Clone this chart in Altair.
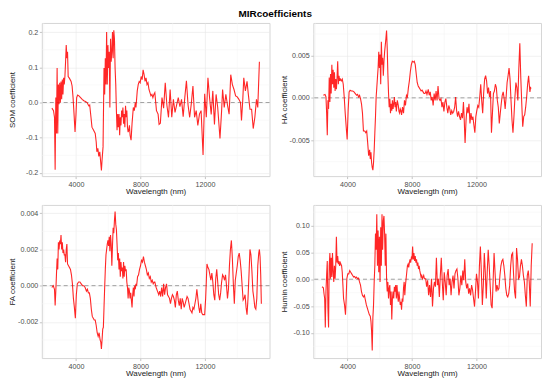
import altair as alt
import pandas as pd

# ---- data (wavelength nm, coefficient) ----
som = [(2505,-0.016),(2606,-0.023),(2667,-0.042),(2707,-0.191),(2748,0.014),(2788,-0.088),(2829,0.098),(2869,-0.088),(2909,0.051),(2950,-0.005),(2990,0.056),(3031,0.0),(3071,0.06),(3111,0.009),(3152,0.065),(3192,0.023),(3233,0.07),(3273,0.051),(3313,0.074),(3354,0.116),(3394,0.163),(3435,0.126),(3475,0.144),(3515,0.074),(3576,0.07),(3637,0.065),(3697,0.06),(3758,0.047),(3818,0.014),(3879,-0.033),(3940,-0.084),(4000,-0.033),(4041,0.014),(4101,0.021),(4182,0.019),(4283,0.014),(4384,0.009),(4485,0.005),(4586,0.003),(4687,0.0),(4788,-0.009),(4849,-0.007),(4929,-0.042),(4990,-0.07),(5091,-0.079),(5192,-0.088),(5253,-0.112),(5293,-0.14),(5354,-0.13),(5414,-0.153),(5475,-0.14),(5535,-0.172),(5576,-0.193),(5616,-0.163),(5677,-0.126),(5737,0.098),(5778,0.023),(5818,0.126),(5859,0.051),(5899,0.2),(5939,0.051),(5980,0.163),(6020,0.098),(6061,0.144),(6101,-0.014),(6141,0.181),(6182,0.116),(6222,0.144),(6263,0.2),(6303,0.126),(6343,0.205),(6384,0.181),(6424,0.098),(6465,0.051),(6505,-0.023),(6545,-0.079),(6586,-0.033),(6626,-0.07),(6667,-0.033),(6707,-0.093),(6747,-0.042),(6788,-0.065),(6828,-0.023),(6869,-0.042),(6909,-0.014),(6949,-0.06),(6990,-0.033),(7030,-0.07),(7071,-0.009),(7111,-0.042),(7151,-0.023),(7192,-0.07),(7232,-0.084),(7273,-0.079),(7313,-0.065),(7353,-0.093),(7414,-0.107),(7475,-0.06),(7515,-0.037),(7555,-0.014),(7616,-0.023),(7677,0.0),(7717,-0.014),(7798,0.033),(7858,0.051),(7919,0.06),(7980,0.056),(8040,0.074),(8101,0.065),(8161,0.093),(8222,0.079),(8283,0.06),(8343,0.07),(8404,0.051),(8464,0.056),(8525,0.037),(8586,0.028),(8646,0.019),(8707,0.023),(8767,0.014),(8828,0.023),(8888,0.028),(8989,-0.023),(9090,-0.033),(9151,-0.062),(9231,-0.059),(9332,0.014),(9433,-0.016),(9534,0.056),(9635,-0.007),(9736,-0.042),(9837,0.037),(9938,-0.042),(10039,0.009),(10140,-0.028),(10241,-0.007),(10342,0.014),(10443,-0.012),(10544,0.009),(10645,-0.04),(10746,0.014),(10847,0.062),(10948,-0.007),(11049,-0.042),(11150,-0.003),(11251,0.047),(11352,-0.042),(11453,-0.023),(11554,-0.065),(11655,-0.033),(11756,-0.023),(11878,-0.149),(11979,0.025),(12080,-0.042),(12181,0.07),(12282,0.014),(12383,-0.034),(12484,0.033),(12585,-0.062),(12686,0.023),(12787,-0.014),(12928,-0.102),(13029,-0.023),(13090,0.037),(13191,-0.014),(13292,0.023),(13393,-0.007),(13494,-0.033),(13595,0.079),(13696,0.051),(13797,0.037),(13898,0.019),(13999,0.016),(14100,0.009),(14201,0.0),(14261,-0.051),(14342,0.009),(14403,0.07),(14504,0.033),(14605,0.06),(14686,0.023),(14787,-0.019),(14888,-0.019),(14989,-0.074),(15090,-0.042),(15191,0.009),(15271,-0.014),(15372,0.116)]

ha = [(2506,0.0003),(2607,0.0004),(2667,0.0001),(2708,-0.0018),(2748,-0.0044),(2788,-0.0003),(2829,-0.0013),(2869,0.0024),(2910,-0.0005),(2950,0.0028),(2990,0.0005),(3031,0.0039),(3071,0.0016),(3112,0.0033),(3152,0.0012),(3192,0.003),(3233,0.0008),(3273,0.0022),(3314,0.001),(3354,0.0024),(3394,0.0043),(3435,0.0016),(3475,0.0026),(3516,0.002),(3556,0.0022),(3617,0.002),(3677,0.0022),(3738,0.0016),(3798,0.0001),(3859,-0.0018),(3920,-0.0034),(3980,-0.0049),(4041,-0.0015),(4101,0.0007),(4162,0.0009),(4243,0.0008),(4324,0.0008),(4404,0.0007),(4485,0.0005),(4566,0.0003),(4627,0.0004),(4687,0.0001),(4748,0.0003),(4808,-0.0001),(4869,-0.0007),(4930,-0.0018),(4990,-0.0039),(5071,-0.0039),(5132,-0.0041),(5192,-0.0039),(5253,-0.0053),(5313,-0.0068),(5374,-0.0061),(5414,-0.0072),(5455,-0.0064),(5495,-0.0076),(5536,-0.0082),(5576,-0.0085),(5616,-0.0076),(5657,-0.0061),(5697,-0.0041),(5738,-0.0022),(5778,0.0001),(5818,0.0012),(5859,0.0024),(5899,0.0035),(5940,0.0054),(5980,0.0035),(6020,0.0051),(6061,0.0016),(6101,0.0066),(6142,0.0039),(6182,0.0047),(6222,0.0026),(6263,0.0043),(6303,0.0054),(6344,0.0062),(6384,0.007),(6424,0.0079),(6465,0.0058),(6505,0.0028),(6546,0.0005),(6586,-0.0011),(6626,-0.0001),(6667,-0.0018),(6707,-0.0007),(6748,-0.0015),(6788,-0.0003),(6828,-0.0013),(6869,-0.0007),(6909,0.0001),(6950,-0.0011),(6990,-0.0005),(7030,-0.0016),(7091,-0.0003),(7152,-0.0009),(7192,-0.0016),(7232,-0.0018),(7273,-0.0013),(7313,-0.0015),(7354,-0.002),(7414,-0.0011),(7475,-0.0018),(7535,-0.0003),(7596,-0.0009),(7657,0.0003),(7717,0.0001),(7778,0.0012),(7838,0.002),(7899,0.0031),(7960,0.0039),(8020,0.0043),(8081,0.0042),(8141,0.0043),(8202,0.0039),(8263,0.0028),(8323,0.0018),(8384,0.0014),(8444,0.0012),(8505,0.001),(8566,0.0008),(8626,0.0009),(8687,0.0007),(8747,0.0005),(8808,0.0005),(8868,0.0008),(8929,0.0004),(9009,0.001),(9070,0.0003),(9131,0.0007),(9191,-0.0003),(9252,0.0001),(9312,-0.0009),(9373,0.0005),(9434,-0.0003),(9494,0.0008),(9555,-0.0003),(9615,0.0014),(9676,-0.0001),(9737,-0.0003),(9797,-0.0001),(9858,-0.0011),(9918,-0.0005),(9979,-0.0016),(10040,-0.0005),(10100,-0.0001),(10161,-0.0011),(10221,-0.0018),(10282,-0.0009),(10343,-0.0013),(10403,-0.002),(10464,-0.0015),(10524,-0.0018),(10585,-0.0016),(10646,-0.0011),(10706,0.0001),(10767,-0.0015),(10827,-0.0022),(10888,-0.0016),(10949,-0.0022),(11009,-0.0026),(11070,-0.0018),(11130,-0.0024),(11191,-0.0005),(11231,-0.0022),(11292,-0.0053),(11353,-0.0026),(11413,-0.0011),(11474,-0.0018),(11534,-0.0007),(11595,-0.003),(11656,-0.0018),(11716,-0.0026),(11777,-0.0022),(11837,-0.0032),(11898,-0.0041),(11959,-0.0022),(12019,-0.0015),(12080,-0.0009),(12140,-0.0011),(12201,0.0001),(12262,0.0016),(12322,-0.0003),(12383,-0.0018),(12443,0.0005),(12504,0.0022),(12565,0.0026),(12625,0.002),(12686,0.0005),(12746,0.0012),(12807,0.0001),(12868,0.0008),(12928,-0.0041),(12989,-0.0018),(13049,0.0005),(13110,0.0008),(13171,0.0016),(13231,0.0012),(13292,-0.0003),(13352,-0.0011),(13413,-0.003),(13474,-0.0018),(13534,-0.0007),(13595,0.0003),(13655,0.0007),(13716,-0.0001),(13777,-0.0013),(13837,0.0001),(13898,0.0018),(13958,0.0026),(14019,0.0035),(14080,0.0022),(14140,-0.0003),(14201,-0.0026),(14261,-0.0041),(14322,-0.0022),(14383,0.0001),(14443,0.0018),(14504,0.0012),(14564,-0.0003),(14625,0.0035),(14686,0.0064),(14746,0.0024),(14807,-0.0007),(14867,-0.0034),(14928,-0.0022),(14989,-0.002),(15049,-0.0011),(15110,0.0001),(15170,0.0016),(15231,0.0026),(15271,0.0016),(15312,0.0007),(15352,0.0012),(15392,0.0011)]

fa = [(2505,-0.0001),(2586,0.0),(2667,-0.0002),(2707,-0.0011),(2748,-0.0003),(2788,0.0006),(2829,0.0015),(2869,0.0009),(2909,0.0024),(2950,0.002),(2990,0.0025),(3031,0.0023),(3071,0.0028),(3111,0.002),(3152,0.0024),(3192,0.0018),(3233,0.002),(3273,0.0017),(3313,0.0017),(3354,0.0013),(3394,0.002),(3435,0.0023),(3475,0.0012),(3536,0.0011),(3596,0.001),(3657,0.0009),(3717,0.0006),(3778,0.0001),(3839,-0.0007),(3899,-0.0012),(3960,-0.0018),(4020,-0.0005),(4081,0.0001),(4162,0.0002),(4243,0.0002),(4323,0.0001),(4404,0.0),(4485,0.0),(4566,-0.0001),(4647,-0.0003),(4707,-0.0002),(4768,-0.0004),(4828,-0.0004),(4889,-0.0007),(4950,-0.0013),(5010,-0.0017),(5071,-0.0018),(5131,-0.0019),(5192,-0.0019),(5253,-0.0022),(5313,-0.0026),(5374,-0.0028),(5434,-0.0026),(5495,-0.003),(5535,-0.0031),(5576,-0.0035),(5616,-0.003),(5657,-0.0024),(5697,-0.0023),(5737,-0.0012),(5778,-0.0001),(5818,0.0009),(5859,0.0017),(5899,0.002),(5939,0.0023),(5980,0.0025),(6020,0.0022),(6061,0.0027),(6101,0.0019),(6141,0.0028),(6182,0.0023),(6222,0.0011),(6263,0.0022),(6303,0.0032),(6343,0.0029),(6384,0.0036),(6424,0.0041),(6465,0.0034),(6505,0.0031),(6545,0.0023),(6586,0.0014),(6626,0.0018),(6667,0.0009),(6707,0.0015),(6747,0.0005),(6788,0.0013),(6828,0.0008),(6869,0.001),(6909,0.0004),(6949,0.0013),(6990,0.0005),(7030,0.0011),(7071,0.0008),(7111,0.0009),(7151,0.0002),(7192,-0.0001),(7232,-0.0007),(7273,-0.0001),(7313,-0.0003),(7353,-0.0007),(7394,-0.0004),(7434,-0.0008),(7475,-0.0012),(7515,-0.0005),(7555,-0.0001),(7596,-0.0006),(7636,0.0),(7677,-0.0002),(7717,0.0001),(7757,0.0),(7818,0.0005),(7879,0.0006),(7939,0.0009),(8000,0.0011),(8060,0.0014),(8121,0.0013),(8182,0.0016),(8242,0.0013),(8303,0.0011),(8363,0.0009),(8424,0.0006),(8485,0.0007),(8545,0.0004),(8606,0.0005),(8666,0.0002),(8727,0.0003),(8788,0.0001),(8848,0.0002),(8888,0.0002),(8969,-0.0001),(9050,-0.0003),(9130,-0.0005),(9191,-0.0003),(9252,-0.0006),(9312,-0.0001),(9373,-0.0006),(9433,0.0001),(9494,-0.0005),(9555,-0.0001),(9615,0.0001),(9676,-0.0005),(9736,-0.0006),(9797,-0.0007),(9858,-0.001),(9918,-0.0007),(9979,-0.0005),(10039,-0.0006),(10100,-0.0008),(10161,-0.0012),(10221,-0.0005),(10282,-0.0003),(10342,-0.0008),(10403,-0.0011),(10464,-0.0007),(10524,-0.0013),(10585,-0.0007),(10645,-0.0009),(10706,-0.0012),(10767,-0.001),(10827,-0.0008),(10888,-0.0006),(10948,-0.0007),(11009,-0.001),(11070,-0.0013),(11130,-0.0014),(11191,-0.0015),(11251,-0.0012),(11312,-0.0013),(11373,-0.001),(11433,-0.0007),(11494,-0.0002),(11554,-0.0007),(11615,-0.0012),(11676,-0.0015),(11736,-0.001),(11797,-0.0015),(11857,-0.0016),(11918,-0.0016),(11979,-0.0016),(12039,-0.0007),(12080,0.0002),(12120,0.0012),(12181,0.001),(12241,0.0009),(12302,0.0006),(12362,0.0003),(12423,0.0007),(12484,0.0002),(12544,-0.0005),(12605,-0.0008),(12665,0.0004),(12726,0.0009),(12787,0.0002),(12847,-0.0005),(12908,-0.0008),(12968,-0.0004),(13029,0.0002),(13090,0.0006),(13150,0.0005),(13211,0.0003),(13271,0.0006),(13332,0.0),(13393,-0.0007),(13453,-0.0002),(13514,0.0011),(13574,0.002),(13635,0.0025),(13696,0.0015),(13756,0.0001),(13817,-0.001),(13877,0.0003),(13938,0.0007),(13999,0.0011),(14059,0.0016),(14120,0.0018),(14180,0.0014),(14241,0.0008),(14302,0.0),(14362,-0.0008),(14423,-0.0007),(14483,-0.0005),(14544,-0.0012),(14605,-0.0016),(14665,-0.0007),(14726,0.0006),(14786,0.002),(14847,0.0017),(14908,0.0008),(14968,-0.0003),(15029,-0.0007),(15089,-0.0012),(15150,-0.0013),(15211,-0.0007),(15271,0.0011),(15332,0.0018),(15372,0.002),(15413,0.0016),(15453,0.0006),(15493,-0.001)]

humin = [(2424,-0.014),(2505,-0.016),(2545,-0.027),(2586,-0.036),(2626,-0.09),(2666,-0.023),(2707,0.007),(2747,0.034),(2788,-0.054),(2828,-0.09),(2868,0.025),(2909,0.049),(2949,0.001),(2990,0.04),(3030,0.004),(3070,0.049),(3111,0.013),(3151,-0.005),(3192,0.025),(3232,0.001),(3272,0.025),(3313,0.079),(3353,0.031),(3394,0.043),(3434,0.028),(3474,0.034),(3515,0.025),(3555,0.031),(3596,0.028),(3636,0.025),(3676,0.013),(3717,-0.011),(3757,-0.036),(3818,-0.048),(3878,-0.066),(3919,-0.036),(3959,0.001),(4020,0.01),(4080,0.01),(4141,0.016),(4202,0.013),(4262,0.01),(4323,0.007),(4383,0.004),(4444,0.005),(4505,0.002),(4565,0.004),(4626,0.001),(4686,0.002),(4747,-0.005),(4808,-0.011),(4868,-0.023),(4929,-0.03),(4989,-0.033),(5050,-0.03),(5111,-0.039),(5171,-0.048),(5232,-0.054),(5292,-0.06),(5353,-0.066),(5414,-0.069),(5454,-0.078),(5494,-0.096),(5535,-0.133),(5575,-0.072),(5616,-0.048),(5656,-0.005),(5696,0.025),(5737,0.085),(5777,0.055),(5818,0.121),(5858,0.025),(5898,0.091),(5939,0.013),(5979,0.079),(6020,-0.005),(6060,0.097),(6100,0.025),(6141,0.121),(6181,0.055),(6222,0.109),(6262,0.118),(6302,0.085),(6343,0.025),(6383,0.085),(6424,0.001),(6464,-0.023),(6504,-0.005),(6545,-0.036),(6585,-0.017),(6626,-0.011),(6666,-0.048),(6706,-0.023),(6747,-0.075),(6787,-0.036),(6828,-0.023),(6868,-0.036),(6908,-0.014),(6949,-0.023),(6989,-0.011),(7030,-0.036),(7070,-0.011),(7110,-0.03),(7151,-0.042),(7191,-0.023),(7232,-0.036),(7272,-0.048),(7312,-0.042),(7353,-0.057),(7393,-0.036),(7434,-0.042),(7474,-0.017),(7514,-0.005),(7555,-0.03),(7595,-0.011),(7636,0.001),(7676,0.013),(7716,0.025),(7757,0.028),(7797,0.022),(7838,0.031),(7878,0.037),(7918,0.031),(7959,0.04),(7999,0.037),(8040,0.061),(8080,0.037),(8120,0.049),(8161,0.034),(8201,0.043),(8242,0.031),(8282,0.037),(8322,0.025),(8363,0.031),(8403,0.019),(8444,0.025),(8484,0.016),(8524,0.01),(8565,0.004),(8605,0.007),(8646,0.001),(8686,0.004),(8726,0.007),(8767,0.001),(8848,0.001),(8908,-0.014),(8969,-0.002),(9030,-0.03),(9090,-0.011),(9151,-0.033),(9211,0.001),(9272,-0.051),(9333,-0.017),(9393,-0.005),(9454,-0.014),(9514,0.04),(9575,-0.011),(9636,0.001),(9696,-0.033),(9757,0.007),(9817,0.04),(9878,-0.005),(9939,-0.039),(9999,0.013),(10060,-0.005),(10120,-0.03),(10181,0.007),(10242,0.019),(10302,-0.011),(10363,0.001),(10423,-0.03),(10484,-0.005),(10545,0.007),(10605,-0.017),(10666,0.01),(10726,0.016),(10787,0.019),(10848,0.001),(10908,-0.03),(10969,-0.017),(11029,0.007),(11090,-0.011),(11151,0.016),(11211,-0.002),(11272,0.037),(11332,-0.005),(11393,-0.017),(11454,-0.008),(11514,-0.027),(11575,-0.017),(11635,-0.03),(11696,-0.011),(11757,-0.02),(11817,-0.036),(11878,-0.051),(11938,-0.023),(11999,0.01),(12060,-0.005),(12120,-0.036),(12181,0.025),(12241,0.061),(12302,0.013),(12363,-0.048),(12423,-0.011),(12484,0.049),(12545,0.013),(12605,-0.036),(12666,0.013),(12726,0.055),(12787,0.025),(12847,-0.011),(12908,-0.048),(12969,-0.054),(13029,-0.005),(13090,0.049),(13150,0.013),(13211,-0.023),(13272,-0.011),(13332,-0.02),(13393,-0.017),(13453,0.007),(13514,0.025),(13575,0.034),(13635,0.037),(13696,0.025),(13756,0.007),(13817,-0.017),(13878,-0.03),(13938,-0.033),(13999,-0.027),(14059,-0.011),(14120,0.025),(14181,0.046),(14241,0.049),(14302,0.007),(14362,-0.023),(14423,-0.036),(14484,0.058),(14544,0.037),(14605,0.001),(14665,0.004),(14726,0.025),(14787,0.037),(14847,0.025),(14908,0.007),(14969,-0.005),(15029,-0.03),(15090,-0.051),(15150,0.007),(15211,0.016),(15271,-0.005),(15332,-0.051),(15393,0.025),(15453,0.067)]

panel_titles = ["SOM coefficient", "HA coefficient", "FA coefficient", "Humin coefficient"]
y_domains = [[-0.209, 0.226], [-0.0092, 0.0088], [-0.0040, 0.00446], [-0.147, 0.1385]]
y_ticks = [[-0.2, -0.1, 0.0, 0.1, 0.2], [-0.005, 0.0, 0.005], [-0.002, 0.0, 0.002, 0.004], [-0.10, -0.05, 0.0, 0.05, 0.10]]
y_minor = [[-0.15, -0.05, 0.05, 0.15], [-0.0075, -0.0025, 0.0025, 0.0075], [-0.003, -0.001, 0.001, 0.003], [-0.125, -0.075, -0.025, 0.025, 0.075, 0.125]]
y_formats = [".1f", ".3f", ".3f", ".2f"]
x_domain = [1880, 16000]
x_ticks = [4000, 8000, 12000]
x_minor = [2000, 6000, 10000, 14000]

FONT = "Liberation Sans"
W, H = 229, 154


def panel(data, ytitle, ydom, yticks, yminor, yfmt):
    df = pd.DataFrame(data, columns=["wl", "coef"])
    xs = alt.Scale(domain=x_domain, nice=False, zero=False)
    ys = alt.Scale(domain=ydom, nice=False, zero=False)
    xaxis = alt.Axis(values=x_ticks, format="d", title="Wavelength (nm)")
    yaxis = alt.Axis(
        values=yticks, title=ytitle,
        labelExpr="replace(format(datum.value, '%s'), '\u2212', '-')" % yfmt,
    )
    xmin = alt.Chart(pd.DataFrame({"wl": x_minor})).mark_rule(
        color="#f2f2f2", strokeWidth=0.5
    ).encode(x=alt.X("wl:Q", scale=xs, axis=xaxis))
    ymin = alt.Chart(pd.DataFrame({"coef": yminor})).mark_rule(
        color="#f2f2f2", strokeWidth=0.5
    ).encode(y=alt.Y("coef:Q", scale=ys, axis=yaxis))
    zero = alt.Chart(pd.DataFrame({"coef": [0.0]})).mark_rule(
        color="#8a8a8a", strokeWidth=0.8, strokeDash=[4, 3]
    ).encode(y=alt.Y("coef:Q", scale=ys, axis=yaxis))
    line = alt.Chart(df).mark_line(
        color="#ff0000", strokeWidth=1.1, opacity=0.85
    ).encode(
        x=alt.X("wl:Q", scale=xs, axis=xaxis),
        y=alt.Y("coef:Q", scale=ys, axis=yaxis),
    )
    return alt.layer(xmin, ymin, zero, line).properties(width=W, height=H)


series = [som, ha, fa, humin]
charts = [
    panel(series[i], panel_titles[i], y_domains[i], y_ticks[i], y_minor[i], y_formats[i])
    for i in range(4)
]

chart = alt.vconcat(
    alt.hconcat(charts[0], charts[1], spacing=9),
    alt.hconcat(charts[2], charts[3], spacing=9),
    spacing=7,
).properties(
    title=alt.TitleParams(
        "MIRcoefficients", anchor="middle", fontSize=10, font=FONT,
        fontWeight="bold", color="#000000", offset=3,
    ),
    padding=0,
    background="white",
).configure_view(
    stroke="#d6d6d6", strokeWidth=1
).configure_axis(
    domain=False,
    grid=True,
    gridColor="#e8e8e8",
    gridWidth=0.6,
    ticks=True,
    tickColor="#c4c4c4",
    tickSize=2.5,
    labelFont=FONT,
    labelFontSize=7.2,
    labelColor="#4d4d4d",
    labelPadding=1.5,
    titleFont=FONT,
    titleFontSize=8,
    titleFontWeight="normal",
    titleColor="#1a1a1a",
    titlePadding=1,
).configure_axisY(
    minExtent=24, maxExtent=24
).configure_axisX(
    minExtent=11, maxExtent=11
)

chart.save("out.html", embed_options={"renderer": "svg", "actions": False})
